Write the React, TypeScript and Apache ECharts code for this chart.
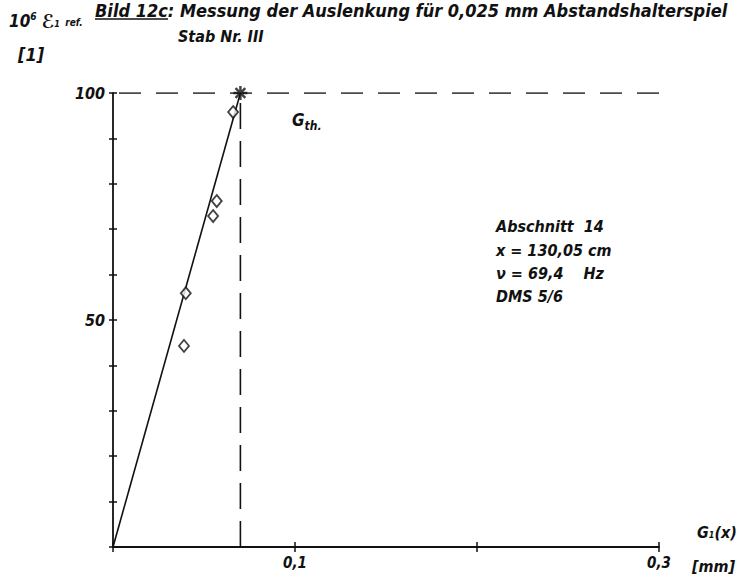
import React, { useEffect, useRef } from "react";
import * as echarts from "echarts";

// Data
const lineX = [0, 0.07];
const lineY = [0, 100];
const measX = [0.066, 0.057, 0.055, 0.040, 0.039];
const measY = [95.8, 76.2, 72.9, 55.9, 44.3];
const thX = 0.07;
const thY = 100;
const xMax = 0.3;
const yTickLabels = [50, 100];
const xTickLabels = [0.1, 0.3];

const FONT = "DejaVu Sans Condensed";
const W = "bold";

export default function App() {
  const ref = useRef<HTMLDivElement>(null);
  useEffect(() => {
    if (!ref.current) return;
    const chart = echarts.init(ref.current, null, { renderer: "svg" });
    const axisLine = { show: true, lineStyle: { color: "#111", width: 1.8 } };
    const f = (size: number, extra: any = {}) => ({
      fontFamily: FONT,
      fontStyle: "italic",
      fontWeight: W,
      fontSize: size,
      ...extra,
    });
    const txt = (x: number, y: number, text: string, size = 16, extra: any = {}) => ({
      type: "text",
      x,
      y,
      style: { text, fill: "#111", ...f(size), ...extra },
    });
    chart.setOption({
      animation: false,
      backgroundColor: "#fff",
      grid: { left: 113, top: 93, width: 546, height: 454 },
      xAxis: [
        {
          type: "value",
          min: 0,
          max: xMax,
          interval: 0.1,
          position: "bottom",
          axisLine,
          splitLine: { show: false },
          axisTick: { show: true, length: 5, lineStyle: { color: "#111", width: 1.5 } },
          axisLabel: {
            margin: 8,
            ...f(15),
            color: "#111",
            formatter: (v: number) =>
              xTickLabels.some((t) => Math.abs(t - v) < 1e-9) ? v.toFixed(1).replace(".", ",") : "",
          },
        },
        {
          type: "value",
          min: 0,
          max: xMax,
          interval: 0.1,
          position: "bottom",
          axisLine: { show: false },
          splitLine: { show: false },
          axisTick: { show: true, inside: true, length: 5, lineStyle: { color: "#111", width: 1.5 } },
          axisLabel: { show: false },
        },
      ],
      yAxis: [
        {
          type: "value",
          min: 0,
          max: 100,
          interval: 10,
          position: "left",
          axisLine,
          splitLine: { show: false },
          axisTick: { show: true, length: 4, lineStyle: { color: "#111", width: 1.5 } },
          axisLabel: {
            margin: 8,
            ...f(16),
            color: "#111",
            formatter: (v: number) => (yTickLabels.includes(v) ? String(v) : ""),
          },
        },
        {
          type: "value",
          min: 0,
          max: 100,
          interval: 10,
          position: "left",
          axisLine: { show: false },
          splitLine: { show: false },
          axisTick: { show: true, inside: true, length: 4, lineStyle: { color: "#111", width: 1.5 } },
          axisLabel: { show: false },
        },
      ],
      series: [
        {
          type: "line",
          data: lineX.map((x, i) => [x, lineY[i]]),
          symbol: "none",
          lineStyle: { color: "#111", width: 1.6 },
          z: 3,
        },
        {
          type: "line",
          data: [
            [thX, 0],
            [thX, thY],
          ],
          symbol: "none",
          lineStyle: { color: "#111", width: 1.6, type: [26, 12] },
        },
        {
          type: "line",
          data: [
            [0, thY],
            [xMax, thY],
          ],
          symbol: "none",
          lineStyle: { color: "#111", width: 1.6, type: [22, 15], dashOffset: -6 },
        },
        {
          type: "scatter",
          data: measX.map((x, i) => [x, measY[i]]),
          symbol: "diamond",
          symbolSize: [10, 12],
          itemStyle: { color: "#fff", borderColor: "#111", borderWidth: 1.8 },
          z: 5,
        },
        {
          type: "scatter",
          data: [[thX, thY]],
          symbol: "path://M0,-10L0,10M-10,0L10,0M-7,-7L7,7M-7,7L7,-7",
          symbolSize: 14,
          itemStyle: { color: "none", borderColor: "#111", borderWidth: 2.4 },
          z: 6,
        },
      ],
      graphic: [
        txt(95, 1, "Bild 12c: Messung der Auslenkung für 0,025 mm Abstandshalterspiel", 18),
        {
          type: "line",
          shape: { x1: 95, y1: 19, x2: 168, y2: 19 },
          style: { stroke: "#111", lineWidth: 1.6 },
        },
        {
          type: "text",
          x: 9,
          y: 11,
          style: {
            text: "{n|10}{sup|6} {e|ℰ}{sub|1} {r|ref.}",
            fill: "#111",
            ...f(17),
            rich: {
              n: f(17),
              sup: f(10, { padding: [0, 0, 8, 0] }),
              e: f(19),
              sub: f(9, { padding: [6, 0, 0, 0] }),
              r: f(10, { padding: [4, 0, 0, 0] }),
            },
          },
        },
        txt(18, 45, "[1]", 18),
        txt(178, 28, "Stab Nr. III", 16),
        {
          type: "text",
          x: 292,
          y: 108,
          style: {
            text: "{g|G}{s|th.}",
            fill: "#111",
            ...f(17),
            rich: {
              g: f(17),
              s: f(12, { padding: [12, 0, 0, 0] }),
            },
          },
        },
        txt(496, 218, "Abschnitt  14", 16),
        txt(496, 242, "x = 130,05 cm", 16),
        txt(496, 265, "ν = 69,4    Hz", 16),
        txt(496, 288, "DMS 5/6", 16),
        {
          type: "text",
          x: 697,
          y: 524,
          style: {
            text: "{g|G}{s|1}{g|(x)}",
            fill: "#111",
            ...f(16),
            rich: {
              g: f(16),
              s: f(9, { padding: [6, 0, 0, 0] }),
            },
          },
        },
        txt(692, 558, "[mm]", 16),
      ],
    });
    return () => chart.dispose();
  }, []);
  return (
    <div
      ref={ref}
      style={{ position: "fixed", left: 0, top: 0, width: 755, height: 583, background: "#fff" }}
    />
  );
}
